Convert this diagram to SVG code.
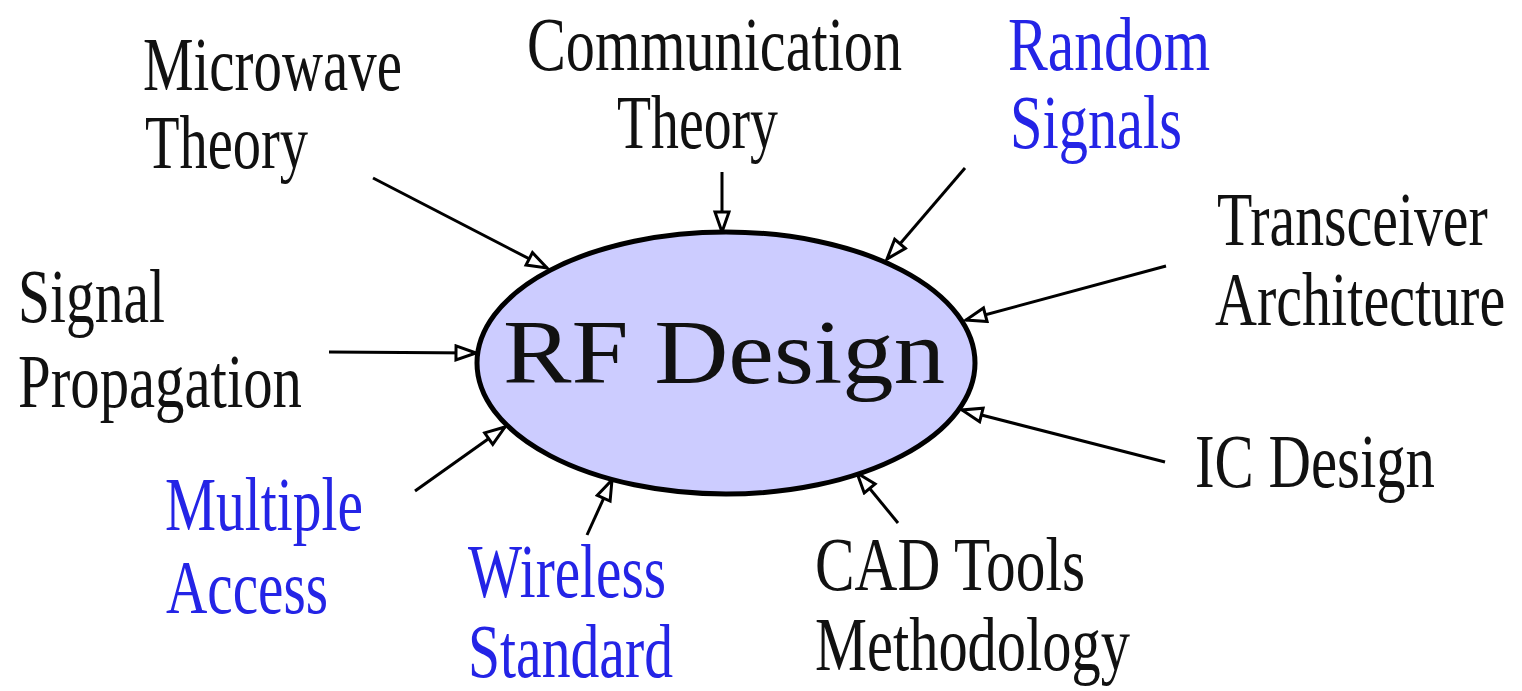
<svg xmlns="http://www.w3.org/2000/svg" width="1522" height="691" viewBox="0 0 1522 691">
<style>
.lbl{font-family:"Liberation Serif","Times New Roman",serif;font-size:77px;fill:#111}
.blue{fill:#2424E6}
.conn{stroke:#000;stroke-width:3;fill:none;marker-end:url(#oa)}
</style>
<defs>
<marker id="oa" markerUnits="userSpaceOnUse" markerWidth="26" markerHeight="20" refX="22" refY="9" orient="auto" viewBox="0 0 26 20">
<path d="M2,2 L22,9 L2,16 Z" fill="#fff" stroke="#000" stroke-width="3" stroke-linejoin="miter"/>
</marker>
</defs>
<rect width="1522" height="691" fill="#fff"/>
<g id="connectors">
<line class="conn" x1="373" y1="178" x2="547" y2="268"/>
<line class="conn" x1="722" y1="172" x2="722" y2="232"/>
<line class="conn" x1="965" y1="168" x2="887" y2="259"/>
<line class="conn" x1="1166" y1="266" x2="966" y2="320"/>
<line class="conn" x1="1165" y1="462" x2="962" y2="410"/>
<line class="conn" x1="329" y1="352" x2="476" y2="353"/>
<line class="conn" x1="415" y1="491" x2="505" y2="427"/>
<line class="conn" x1="587" y1="535" x2="612" y2="480"/>
<line class="conn" x1="898" y1="523" x2="857" y2="473"/>
</g>
<g id="rf-design">
<ellipse cx="726" cy="363" rx="249" ry="131" fill="#CCCCFF" stroke="#000" stroke-width="5"/>
<text x="503" y="383" class="lbl" style="font-size:90px" textLength="442" lengthAdjust="spacingAndGlyphs">RF Design</text>
</g>
<g id="microwave-theory">
<text x="143" y="90" class="lbl" textLength="259" lengthAdjust="spacingAndGlyphs">Microwave</text>
<text x="145" y="168" class="lbl" textLength="163" lengthAdjust="spacingAndGlyphs">Theory</text>
</g>
<g id="communication-theory">
<text x="527" y="70" class="lbl" textLength="375" lengthAdjust="spacingAndGlyphs">Communication</text>
<text x="617" y="148" class="lbl" textLength="161" lengthAdjust="spacingAndGlyphs">Theory</text>
</g>
<g id="random-signals">
<text x="1008" y="70" class="lbl blue" textLength="202" lengthAdjust="spacingAndGlyphs">Random</text>
<text x="1010" y="148" class="lbl blue" textLength="172" lengthAdjust="spacingAndGlyphs">Signals</text>
</g>
<g id="transceiver-architecture">
<text transform="translate(1217,245) scale(0.75,1)" x="0" y="0" class="lbl" textLength="361" lengthAdjust="spacingAndGlyphs">Transceiver</text>
<text transform="translate(1215,325) scale(0.75,1)" x="0" y="0" class="lbl" textLength="387" lengthAdjust="spacingAndGlyphs">Architecture</text>
</g>
<g id="signal-propagation">
<text x="18" y="322" class="lbl" textLength="147" lengthAdjust="spacingAndGlyphs">Signal</text>
<text x="18" y="407" class="lbl" textLength="284" lengthAdjust="spacingAndGlyphs">Propagation</text>
</g>
<g id="ic-design">
<text x="1195" y="487" class="lbl" textLength="240" lengthAdjust="spacingAndGlyphs">IC Design</text>
</g>
<g id="multiple-access">
<text x="165" y="530" class="lbl blue" textLength="198" lengthAdjust="spacingAndGlyphs">Multiple</text>
<text x="166" y="613" class="lbl blue" textLength="162" lengthAdjust="spacingAndGlyphs">Access</text>
</g>
<g id="wireless-standard">
<text x="468" y="597" class="lbl blue" textLength="198" lengthAdjust="spacingAndGlyphs">Wireless</text>
<text x="468" y="677" class="lbl blue" textLength="205" lengthAdjust="spacingAndGlyphs">Standard</text>
</g>
<g id="cad-tools">
<text x="815" y="590" class="lbl" textLength="270" lengthAdjust="spacingAndGlyphs">CAD Tools</text>
<text x="815" y="670" class="lbl" textLength="315" lengthAdjust="spacingAndGlyphs">Methodology</text>
</g>
</svg>
